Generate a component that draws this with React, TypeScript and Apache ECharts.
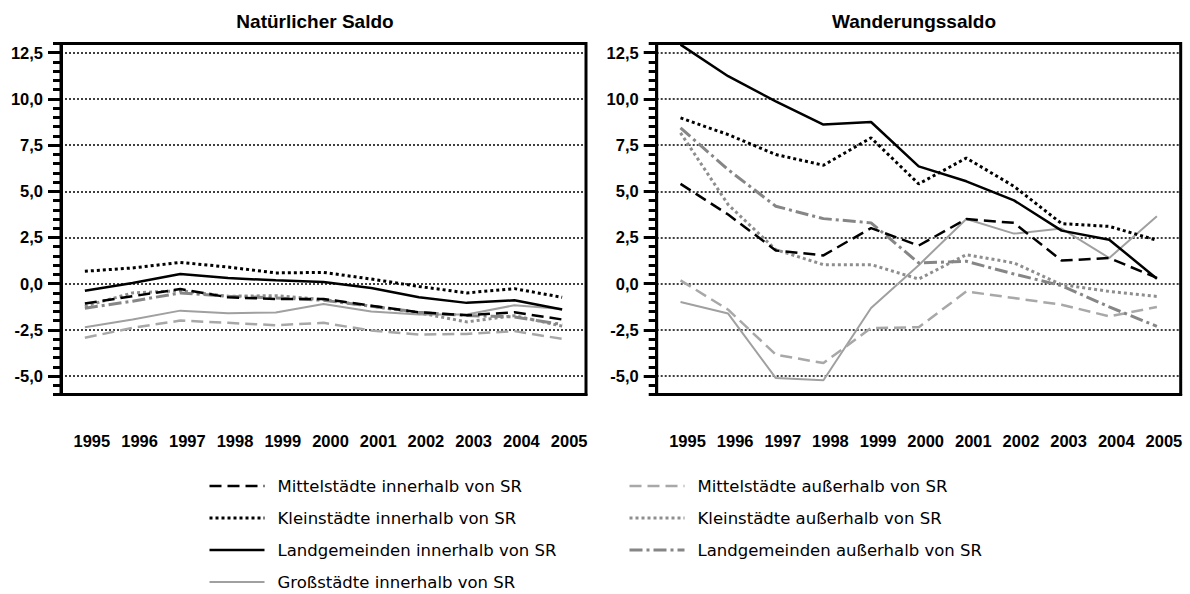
import React, { useEffect, useRef } from 'react';
import * as echarts from 'echarts';

const FONT = '"Liberation Sans", Arial, Helvetica, sans-serif';
const LEGEND_FONT = '"DejaVu Sans", "Liberation Sans", Arial, sans-serif';

const years = ['1995', '1996', '1997', '1998', '1999', '2000', '2001', '2002', '2003', '2004', '2005'];
const yTicks = [-5, -2.5, 0, 2.5, 5, 7.5, 10, 12.5];
const titles = ['Natürlicher Saldo', 'Wanderungssaldo'];
const names = [
  'Mittelstädte innerhalb von SR',
  'Kleinstädte innerhalb von SR',
  'Landgemeinden innerhalb von SR',
  'Großstädte innerhalb von SR',
  'Mittelstädte außerhalb von SR',
  'Kleinstädte außerhalb von SR',
  'Landgemeinden außerhalb von SR',
];

// Natürlicher Saldo
const natMittelIn = [-1.08, -0.68, -0.29, -0.74, -0.83, -0.83, -1.19, -1.55, -1.71, -1.55, -1.94];
const natKleinIn = [0.67, 0.85, 1.15, 0.9, 0.58, 0.61, 0.25, -0.15, -0.5, -0.27, -0.74];
const natLandIn = [-0.38, 0.04, 0.52, 0.3, 0.18, 0.09, -0.23, -0.74, -1.04, -0.9, -1.4];
const natGrossIn = [-2.36, -1.94, -1.46, -1.6, -1.56, -1.1, -1.51, -1.67, -1.67, -1.17, -1.37];
const natMittelAus = [-2.93, -2.39, -2.0, -2.12, -2.25, -2.12, -2.54, -2.75, -2.72, -2.57, -2.99];
const natKleinAus = [-1.22, -0.5, -0.38, -0.68, -0.65, -0.86, -1.22, -1.58, -2.07, -1.73, -2.3];
const natLandAus = [-1.33, -0.95, -0.5, -0.68, -0.77, -0.9, -1.22, -1.55, -1.73, -1.8, -2.21];

// Wanderungssaldo
const wanMittelIn = [5.4, 3.74, 1.8, 1.53, 3.01, 2.06, 3.5, 3.29, 1.25, 1.39, 0.31];
const wanKleinIn = [8.97, 8.07, 6.99, 6.41, 7.89, 5.4, 6.8, 5.27, 3.25, 3.1, 2.35];
const wanLandIn = [12.94, 11.23, 9.87, 8.61, 8.75, 6.35, 5.54, 4.51, 2.87, 2.38, 0.27];
const wanGrossIn = [-0.99, -1.62, -5.11, -5.23, -1.32, 1.0, 3.5, 2.71, 2.98, 1.39, 3.65];
const wanMittelAus = [0.18, -1.41, -3.84, -4.3, -2.4, -2.36, -0.42, -0.78, -1.14, -1.77, -1.26];
const wanKleinAus = [8.16, 4.28, 1.84, 1.03, 1.03, 0.25, 1.57, 1.12, -0.05, -0.42, -0.69];
const wanLandAus = [8.43, 6.17, 4.19, 3.52, 3.29, 1.12, 1.21, 0.52, -0.11, -1.26, -2.31];

const natData = [natMittelIn, natKleinIn, natLandIn, natGrossIn, natMittelAus, natKleinAus, natLandAus];
const wanData = [wanMittelIn, wanKleinIn, wanLandIn, wanGrossIn, wanMittelAus, wanKleinAus, wanLandAus];

const lineStyles: any[] = [
  { color: '#000000', width: 2.5, type: [12, 6] },
  { color: '#000000', width: 3, type: [3, 3] },
  { color: '#000000', width: 2.5, type: 'solid' },
  { color: '#a0a0a0', width: 2, type: 'solid' },
  { color: '#a8a8a8', width: 2.5, type: [12, 6] },
  { color: '#8e8e8e', width: 3, type: [3, 3] },
  { color: '#868686', width: 3, type: [13, 4, 3, 4] },
];
const drawOrder = [3, 4, 5, 6, 0, 1, 2];

const grids = [
  { left: 61, top: 43.5, width: 525, height: 351 },
  { left: 656.7, top: 43.5, width: 524, height: 351 },
];
const titleX = [315, 914];

export default function App() {
  const ref = useRef<HTMLDivElement>(null);

  useEffect(() => {
    document.body.style.margin = '0';
    if (!ref.current) return;
    const chart = echarts.init(ref.current, undefined, { renderer: 'svg' });

    const xAxis: any[] = [];
    const yAxis: any[] = [];
    const series: any[] = [];

    [0, 1].forEach((g) => {
      xAxis.push({
        type: 'category',
        gridIndex: g,
        data: years,
        boundaryGap: true,
        axisLine: { onZero: false, lineStyle: { color: '#000', width: 3 } },
        axisTick: { alignWithLabel: true, length: 12, lineStyle: { color: '#000', width: 3 } },
        axisLabel: {
          interval: 0,
          color: '#000',
          fontFamily: FONT,
          fontWeight: 'bold',
          fontSize: 16.5,
          margin: 38,
          padding: [0, 0, 0, 14],
        },
        splitLine: { show: false },
      });
      yAxis.push({
        type: 'value',
        gridIndex: g,
        position: 'left',
        min: -6,
        max: 13,
        axisLine: { show: true, lineStyle: { color: '#000', width: 3 } },
        axisTick: { show: true, customValues: yTicks, length: 13, lineStyle: { color: '#000', width: 3 } },
        axisLabel: {
          customValues: yTicks,
          formatter: (v: number) => v.toFixed(1).replace('.', ','),
          color: '#000',
          fontFamily: FONT,
          fontWeight: 'bold',
          fontSize: 16.5,
          margin: 18,
        },
        splitLine: { show: true, lineStyle: { color: '#000', width: 1.5, type: [2, 2] } },
      });
      yAxis.push({
        type: 'value',
        gridIndex: g,
        position: 'left',
        min: -6,
        max: 13,
        interval: 0.5,
        axisLine: { show: false },
        axisTick: { show: true, length: 8, lineStyle: { color: '#000', width: 3 } },
        axisLabel: { show: false },
        splitLine: { show: false },
      });
      const data = g === 0 ? natData : wanData;
      drawOrder.forEach((i) => {
        series.push({
          type: 'line',
          name: names[i],
          xAxisIndex: g,
          yAxisIndex: g * 2,
          data: data[i],
          symbol: 'none',
          lineStyle: { ...lineStyles[i], cap: 'butt' },
          itemStyle: { color: lineStyles[i].color },
          emphasis: { disabled: true },
          z: i < 3 ? 4 : 3,
        });
      });
    });

    const legendCommon = {
      orient: 'vertical',
      top: 477,
      height: 140,
      padding: 0,
      itemWidth: 55,
      itemHeight: 14,
      itemGap: 14,
      selectedMode: false,
      lineStyle: { width: 'inherit' },
      itemStyle: { color: 'transparent', borderWidth: 0, opacity: 0 },
      textStyle: { fontSize: 16.5, color: '#000', fontFamily: LEGEND_FONT, lineHeight: 18, padding: [0, 0, 0, 8] },
    };

    chart.setOption({
      animation: false,
      backgroundColor: '#ffffff',
      grid: grids.map((gr) => ({ ...gr, show: true, borderColor: '#000', borderWidth: 3, backgroundColor: 'transparent' })),
      xAxis,
      yAxis,
      series,
      legend: [
        { ...legendCommon, left: 208, data: names.slice(0, 4) },
        { ...legendCommon, left: 628, data: names.slice(4) },
      ],
      graphic: titles.map((t, i) => ({
        type: 'text',
        x: titleX[i],
        y: 21,
        style: {
          text: t,
          fill: '#000',
          fontFamily: FONT,
          fontWeight: 'bold',
          fontSize: 19,
          align: 'center',
          verticalAlign: 'middle',
        },
      })),
    });

    return () => chart.dispose();
  }, []);

  return <div ref={ref} style={{ position: 'absolute', left: 0, top: 0, width: 1190, height: 594 }} />;
}
